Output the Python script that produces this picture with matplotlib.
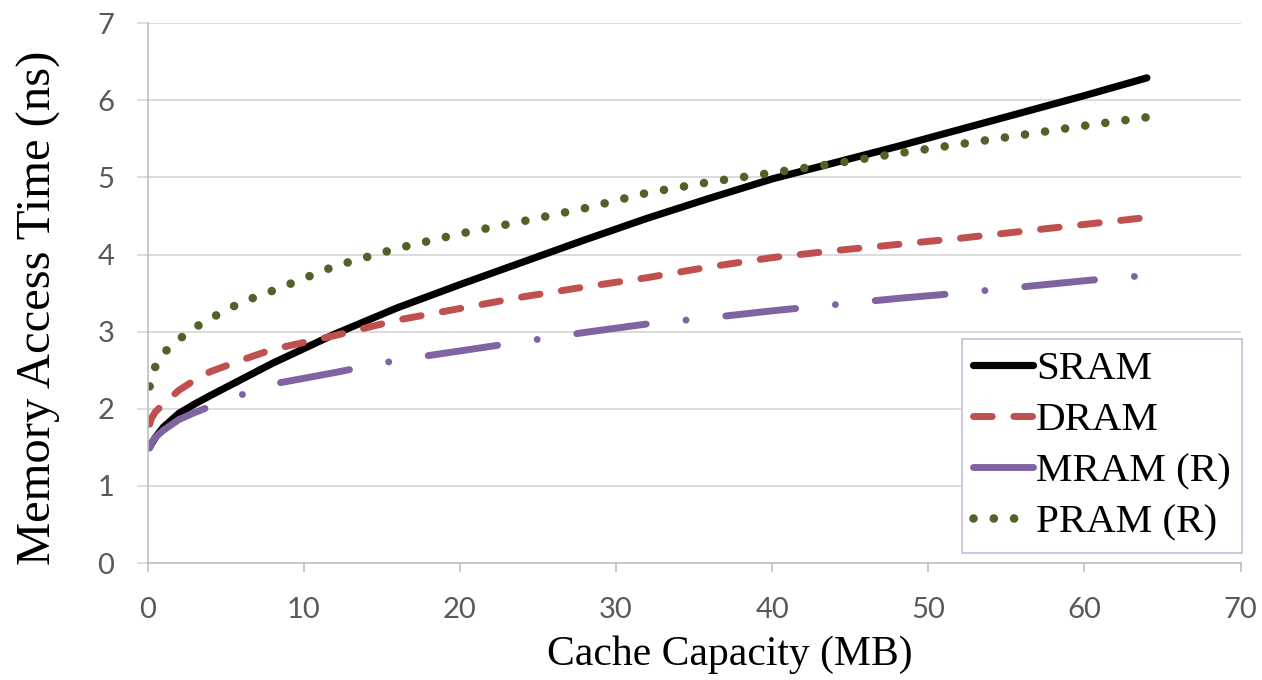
import matplotlib
matplotlib.use("Agg")
from matplotlib import pyplot as plt

# Cache capacity (MB) and access time (ns)
capacity = [0.125, 0.25, 0.5, 1, 2, 3, 4, 6, 8, 12, 16, 20, 24, 28, 32, 36, 40, 44, 48, 52, 56, 60, 64]
sram = [1.50, 1.55, 1.63, 1.76, 1.94, 2.06, 2.17, 2.38, 2.59, 2.97, 3.31, 3.61, 3.90, 4.19, 4.47, 4.73, 4.98, 5.19, 5.40, 5.62, 5.84, 6.06, 6.29]
dram = [1.80, 1.88, 1.96, 2.06, 2.24, 2.37, 2.48, 2.63, 2.77, 2.95, 3.15, 3.30, 3.45, 3.58, 3.70, 3.84, 3.96, 4.05, 4.13, 4.21, 4.30, 4.39, 4.48]
mram = [1.49, 1.56, 1.63, 1.72, 1.86, 1.95, 2.03, 2.18, 2.32, 2.47, 2.63, 2.75, 2.87, 2.99, 3.10, 3.18, 3.27, 3.35, 3.43, 3.50, 3.58, 3.66, 3.73]
pram = [2.29, 2.42, 2.55, 2.72, 2.90, 3.05, 3.17, 3.38, 3.53, 3.85, 4.08, 4.27, 4.43, 4.60, 4.80, 4.94, 5.06, 5.18, 5.31, 5.43, 5.55, 5.67, 5.78]

series_names = ["SRAM", "DRAM", "MRAM (R)", "PRAM (R)"]
x_ticks = [0, 10, 20, 30, 40, 50, 60, 70]
y_ticks = [0, 1, 2, 3, 4, 5, 6, 7]

plt.rcParams['lines.scale_dashes'] = False

fig = plt.figure(figsize=(12.62, 6.80), dpi=100)
ax = fig.add_axes([0.117, 0.172, 0.866, 0.794])

ax.plot(capacity, sram, color="black", lw=5.2, solid_capstyle="round", label=series_names[0])
ax.plot(capacity, dram, color="#C0504D", lw=5.0, dashes=(13.5, 15.5), dash_capstyle="round", label=series_names[1])
ax.plot(capacity, mram, color="#8064A2", lw=5.0, dashes=(50.5, 28.8, 0.01, 28.8), dash_capstyle="round", label=series_names[2])
ax.plot(capacity, pram, color="#4F6228", lw=6.2, dashes=(0.01, 14.6), dash_capstyle="round", label=series_names[3])

ax.set_xlim(0, 70)
ax.set_ylim(0, 7)
ax.set_xticks(x_ticks)
ax.set_yticks(y_ticks)
ax.grid(axis="y", color="#D9D9D9", lw=1.3)
ax.set_axisbelow(True)

for s in ["top", "right"]:
    ax.spines[s].set_visible(False)
for s in ["left", "bottom"]:
    ax.spines[s].set_color("#BFBFBF")
    ax.spines[s].set_linewidth(1.2)

ax.tick_params(axis="x", direction="out", length=6.5, width=1.2, color="#BFBFBF", pad=18, labelsize=21, labelcolor="#595959")
ax.tick_params(axis="y", direction="out", length=8, width=1.2, color="#D9D9D9", pad=16, labelsize=21, labelcolor="#595959")
for lbl in ax.get_xticklabels() + ax.get_yticklabels():
    lbl.set_family("Lato")

ax.set_xlabel("Cache Capacity (MB)", family="Liberation Serif", fontsize=30)
ax.xaxis.set_label_coords(0.533, -0.135)
ax.set_ylabel("Memory Access Time (ns)", family="Liberation Serif", fontsize=35)
ax.yaxis.set_label_coords(-0.079, 0.472)

leg = ax.legend(loc="upper left", bbox_to_anchor=(0.745, 0.415), prop={"family": "Liberation Serif", "size": 29.5},
                handlelength=1.45, handletextpad=0.08, labelspacing=0.33, borderpad=0.28, borderaxespad=0,
                fancybox=False, framealpha=1, edgecolor="#C5BEDD")
leg.get_frame().set_linewidth(1.2)

plt.savefig("out.png", dpi=100)
